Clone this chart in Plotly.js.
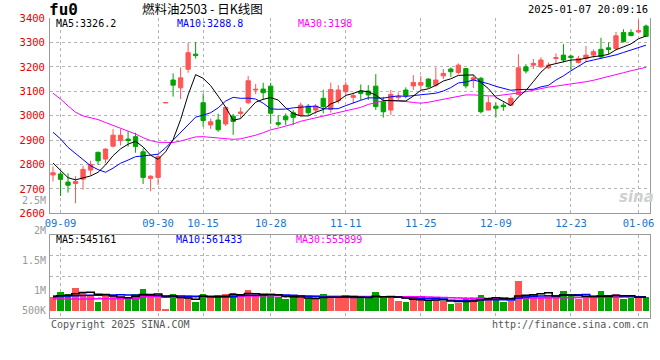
<!DOCTYPE html>
<html><head><meta charset="utf-8">
<script src="https://cdn.plot.ly/plotly-3.0.1.min.js"></script>
<style>html,body{margin:0;padding:0;background:#fff}#chart{width:660px;height:360px}</style>
</head><body><div id="chart"></div>
<script>
const dates = ["09-06","09-09","09-10","09-11","09-12","09-13","09-18","09-19","09-20","09-23",
"09-24","09-25","09-26","09-27","09-30","10-08","10-09","10-10","10-11","10-14",
"10-15","10-16","10-17","10-18","10-21","10-22","10-23","10-24","10-25","10-28",
"10-29","10-30","10-31","11-01","11-04","11-05","11-06","11-07","11-08","11-11",
"11-12","11-13","11-14","11-15","11-18","11-19","11-20","11-21","11-22","11-25",
"11-26","11-27","11-28","11-29","12-02","12-03","12-04","12-05","12-06","12-09",
"12-10","12-11","12-12","12-13","12-16","12-17","12-18","12-19","12-20","12-23",
"12-24","12-25","12-26","12-27","12-30","12-31","01-02","01-03","01-06","01-07"];
const open = [2757,2761,2728,2722,2740,2777,2850,2822,2875,2898,
2904,2914,2852,2743,2747,3052,3146,3114,3190,3252,
3053,2962,2982,2966,2998,3009,3053,3105,3109,3121,
2971,2998,3012,3002,3039,3023,3071,3026,3061,3098,
3075,3101,3101,3121,3057,3023,3074,3105,3122,3125,
3150,3125,3163,3191,3177,3193,3148,3153,3023,3039,
3043,3043,3087,3200,3207,3200,3196,3234,3248,3244,
3218,3234,3248,3272,3278,3275,3341,3341,3343,3367];
const high = [2792,2771,2764,2752,2795,2815,2852,2866,2945,2945,
2937,2930,2866,2756,2843,3054,3173,3198,3298,3302,
3091,2988,3008,3036,3007,3034,3162,3130,3135,3135,
3002,3009,3023,3053,3048,3048,3107,3135,3125,3139,
3095,3128,3125,3170,3077,3105,3095,3116,3166,3163,
3153,3198,3191,3198,3214,3195,3169,3159,3078,3054,
3054,3082,3252,3211,3232,3239,3218,3255,3293,3248,
3245,3285,3271,3319,3300,3343,3354,3354,3391,3373];
const low = [2730,2671,2685,2641,2697,2755,2798,2805,2870,2878,
2873,2848,2720,2690,2716,3052,3078,3068,3176,3234,
2955,2946,2934,2958,2921,2989,3047,3088,3064,2966,
2955,2962,2962,2996,3002,3007,3009,3012,3050,3084,
3050,3064,3064,3023,2992,3002,3064,3071,3105,3105,
3112,3118,3150,3159,3169,3112,3114,3009,3022,2992,
3020,3042,3084,3173,3191,3196,3191,3214,3218,3186,
3214,3221,3237,3234,3251,3268,3300,3325,3337,3323];
const close = [2766,2739,2715,2730,2780,2800,2815,2863,2920,2920,
2898,2874,2747,2752,2832,3054,3125,3155,3258,3246,
2980,2975,2942,3034,2976,3015,3143,3108,3094,3010,
2965,2983,2993,3043,3012,3039,3037,3107,3105,3125,
3082,3091,3085,3037,3016,3087,3078,3082,3136,3136,
3118,3146,3173,3180,3207,3122,3155,3016,3053,3030,
3037,3071,3196,3183,3214,3228,3207,3238,3228,3238,
3234,3248,3262,3241,3271,3327,3303,3328,3348,3325];
const ma5 = [2806,2777,2746,2737,2746,2753,2768,2798,2836,2864,
2883,2895,2872,2838,2821,2852,2902,2984,3085,3168,
3153,3123,3080,3035,2981,2988,3022,3055,3067,3074,
3064,3032,3009,2999,2999,3014,3025,3048,3060,3083,
3091,3102,3098,3084,3062,3063,3061,3060,3080,3104,
3110,3124,3142,3151,3165,3166,3167,3136,3111,3075,
3058,3041,3077,3103,3140,3178,3206,3214,3223,3228,
3229,3237,3242,3245,3251,3270,3281,3294,3315,3326.2];
const ma10 = [2932,2905,2870,2845,2818,2795,2779,2768,2785,2805,
2818,2832,2835,2837,2842,2868,2899,2928,2962,2994,
3002,3012,3032,3060,3075,3071,3072,3068,3051,3028,
3026,3027,3032,3033,3037,3039,3028,3028,3029,3041,
3053,3063,3073,3072,3072,3077,3081,3079,3082,3083,
3087,3092,3101,3115,3134,3138,3146,3139,3131,3120,
3112,3104,3107,3107,3108,3118,3124,3146,3163,3184,
3204,3221,3228,3234,3240,3249,3259,3268,3280,3288.8];
const ma30 = [3092,3068,3040,3014,2999,2992,2984,2972,2960,2950,
2937,2925,2910,2898,2891,2890,2890,2896,2906,2913,
2914,2911,2906,2903,2903,2905,2912,2920,2930,2942,
2949,2957,2966,2977,2984,2992,3000,3008,3014,3021,
3027,3034,3046,3055,3061,3062,3061,3058,3054,3051,
3055,3061,3069,3073,3081,3085,3085,3082,3081,3081,
3084,3087,3093,3098,3105,3111,3117,3121,3125,3129,
3134,3139,3145,3152,3161,3169,3176,3184,3191,3198];
const volume = [535000,760000,668000,908000,760000,615000,360000,588000,615000,535000,
495000,668000,880000,680000,615000,80000,668000,588000,588000,360000,
668000,588000,628000,668000,708000,588000,828000,588000,588000,668000,
535000,480000,535000,495000,495000,455000,668000,588000,495000,615000,
495000,495000,535000,748000,495000,535000,401000,348000,495000,428000,
428000,428000,388000,268000,321000,455000,495000,628000,495000,495000,
361000,401000,1188000,628000,628000,535000,628000,535000,788000,628000,
455000,495000,495000,788000,588000,668000,455000,495000,495000,535000];
const volMa5 = [560000,600000,620000,680000,726000,742000,662000,646000,588000,543000,
519000,580000,639000,652000,668000,585000,585000,526000,508000,457000,
574000,558000,566000,582000,652000,636000,684000,676000,660000,652000,
641000,572000,561000,543000,508000,492000,530000,540000,540000,564000,
572000,538000,527000,578000,554000,562000,543000,505000,455000,441000,
420000,425000,433000,388000,367000,372000,385000,433000,479000,514000,
495000,476000,588000,615000,641000,676000,721000,591000,623000,623000,
607000,580000,572000,572000,564000,607000,599000,599000,540000,545161];
const volMa10 = [590000,590000,590000,600000,610000,620000,620000,630000,630000,635000,
630000,621000,643000,620000,606000,552000,583000,583000,580000,563000,
580000,572000,546000,545000,555000,605000,621000,621000,621000,652000,
639000,628000,619000,602000,580000,567000,551000,551000,542000,536000,
532000,534000,534000,559000,559000,567000,541000,516000,517000,498000,
491000,484000,469000,422000,404000,396000,405000,433000,434000,441000,
434000,431000,511000,547000,578000,586000,599000,590000,619000,632000,
642000,651000,582000,598000,594000,607000,590000,586000,556000,561433];
const volMa30 = [470000,470000,470000,470000,470000,470000,480000,480000,480000,480000,
480000,480000,570000,570000,580000,570000,570000,570000,580000,580000,
580000,580000,580000,580000,580000,590000,590000,590000,600000,600000,
600000,600000,590000,590000,590000,590000,580000,580000,580000,580000,
570000,570000,570000,570000,560000,560000,560000,560000,560000,560000,
550000,540000,530000,520000,510000,500000,500000,500000,490000,490000,
490000,490000,500000,510000,510000,510000,520000,520000,520000,520000,
530000,530000,530000,540000,540000,540000,550000,550000,555000,555899];
const tickDates = ["09-09","09-30","10-15","10-28","11-11","11-25","12-09","12-23","01-06"];
const priceTicks = [2600,2700,2800,2900,3000,3100,3200,3300,3400];
const volLabels = ["2.5M","2M","1.5M","1M","500K"];

const RED = '#ff5555', GREEN = '#00a300', GRID = '#b4b4b4', FRAME = '#9a9a9a';
const MONO = 'DejaVu Sans Mono, monospace';
const W = 660, H = 360;
const px = x => x / W, py = y => 1 - y / H;

const barColors = close.map((c, i) => c >= open[i] ? RED : GREEN);

const traces = [
  {type:'candlestick', x:dates, open:open, high:high, low:low, close:close,
   xaxis:'x', yaxis:'y', whiskerwidth:0, hoverinfo:'skip', showlegend:false,
   increasing:{line:{color:RED,width:1}, fillcolor:RED},
   decreasing:{line:{color:GREEN,width:1}, fillcolor:GREEN}},
  {type:'scatter', mode:'lines', x:dates, y:ma30, line:{color:'#ff00ff',width:1}, xaxis:'x', yaxis:'y', hoverinfo:'skip'},
  {type:'scatter', mode:'lines', x:dates, y:ma10, line:{color:'#0000ff',width:1}, xaxis:'x', yaxis:'y', hoverinfo:'skip'},
  {type:'scatter', mode:'lines', x:dates, y:ma5, line:{color:'#000000',width:1}, xaxis:'x', yaxis:'y', hoverinfo:'skip'},
  {type:'bar', x:dates, y:volume, marker:{color:barColors, line:{width:0}}, width:0.88, xaxis:'x2', yaxis:'y2', hoverinfo:'skip'},
  {type:'scatter', mode:'lines', x:dates, y:volMa30, line:{color:'#ff00ff',width:1.5,shape:'hvh'}, xaxis:'x2', yaxis:'y2', hoverinfo:'skip'},
  {type:'scatter', mode:'lines', x:dates, y:volMa10, line:{color:'#0000ff',width:1.5,shape:'hvh'}, xaxis:'x2', yaxis:'y2', hoverinfo:'skip'},
  {type:'scatter', mode:'lines', x:dates, y:volMa5, line:{color:'#000000',width:1.5,shape:'hvh'}, xaxis:'x2', yaxis:'y2', hoverinfo:'skip'}
];

const volRange = [-292000, 3028000];
const volGrid = [1,2,3].map(k => volRange[0] + (volRange[1]-volRange[0]) * k / 4);
const xDomain = [px(50), px(650)];
const xRange = [-0.4, 79.53];

function ann(text, x, y, color, anchor, size, extra) {
  return Object.assign({text:text, x:px(x), y:py(y), xref:'paper', yref:'paper', showarrow:false,
    xanchor:anchor, yanchor:'middle', font:{family:MONO, size:size||10, color:color}, borderpad:0}, extra||{});
}

const volLabelY = [200, 230.7, 260.7, 290.7, 310];
const annotations = [
  ann('fu0', 48, 9, '#000', 'left', 16, {font:{family:MONO,size:16,color:'#000',weight:'bold'}}),
  ann('燃料油2503 - 日K线图', 141, 8.5, '#000', 'left', 12, {font:{family:'Noto Sans CJK SC',size:12.5,color:'#000'}}),
  ann('2025-01-07 20:09:16', 649, 9, '#000', 'right', 10.5),
  ann('MA5:' + ma5[ma5.length-1], 55, 23.5, '#000', 'left', 10),
  ann('MA10:' + ma10[ma10.length-1], 176, 23.5, '#0000ff', 'left', 10),
  ann('MA30:' + ma30[ma30.length-1], 297, 23.5, '#ff00ff', 'left', 10),
  ann('MA5:' + volMa5[volMa5.length-1], 55, 239, '#000', 'left', 10),
  ann('MA10:' + volMa10[volMa10.length-1], 175, 239, '#0000ff', 'left', 10),
  ann('MA30:' + volMa30[volMa30.length-1], 295, 239, '#ff00ff', 'left', 10),
  ann('Copyright 2025 SINA.COM', 50, 324, '#555', 'left', 10),
  ann('http://finance.sina.com.cn', 650, 324, '#555', 'right', 10),
  ann('sina', 636, 197, '#d0d0d0', 'center', 15, {font:{family:'DejaVu Sans',size:15,color:'#d0d0d0',style:'italic',weight:'bold'}})
].concat(volLabels.map((t, i) => ann(t, 47, volLabelY[i], '#999', 'right', 10)));

const layout = {
  width:W, height:H, margin:{l:0,r:0,t:0,b:0}, paper_bgcolor:'#fff', plot_bgcolor:'#fff',
  showlegend:false, boxgap:0.18, bargap:0,
  font:{family:MONO, size:10},
  xaxis:{type:'category', domain:xDomain, anchor:'y', range:xRange, rangeslider:{visible:false},
    tickmode:'array', tickvals:tickDates, ticktext:tickDates, ticks:'',
    tickfont:{family:MONO,size:10.5,color:'#1874cd'},
    showgrid:true, gridcolor:GRID, griddash:'dot', gridwidth:1,
    showline:true, linecolor:FRAME, linewidth:1, zeroline:false, fixedrange:true},
  yaxis:{domain:[py(213.3), py(17.9)], anchor:'x', range:[2600, 3400.5],
    tickmode:'array', tickvals:priceTicks, ticks:'', ticklabelstandoff:2,
    tickfont:{family:MONO,size:10.5,color:'#e60000'},
    showgrid:true, gridcolor:GRID, griddash:'dot', gridwidth:1,
    showline:true, mirror:true, linecolor:FRAME, linewidth:1, zeroline:false, fixedrange:true},
  xaxis2:{type:'category', domain:xDomain, anchor:'y2', matches:'x', range:xRange,
    tickmode:'array', tickvals:tickDates, showticklabels:false, ticks:'',
    showgrid:true, gridcolor:GRID, griddash:'dot', gridwidth:1,
    showline:true, mirror:true, linecolor:FRAME, linewidth:1, zeroline:false},
  yaxis2:{domain:[py(318), py(235)], anchor:'x2', range:volRange,
    tickmode:'array', tickvals:volGrid, showticklabels:false, ticks:'',
    showgrid:true, gridcolor:GRID, griddash:'dot', gridwidth:1,
    showline:true, mirror:true, linecolor:FRAME, linewidth:1, zeroline:false},
  annotations:annotations
};

Plotly.newPlot('chart', traces, layout, {staticPlot:true, displayModeBar:false});
</script></body></html>
